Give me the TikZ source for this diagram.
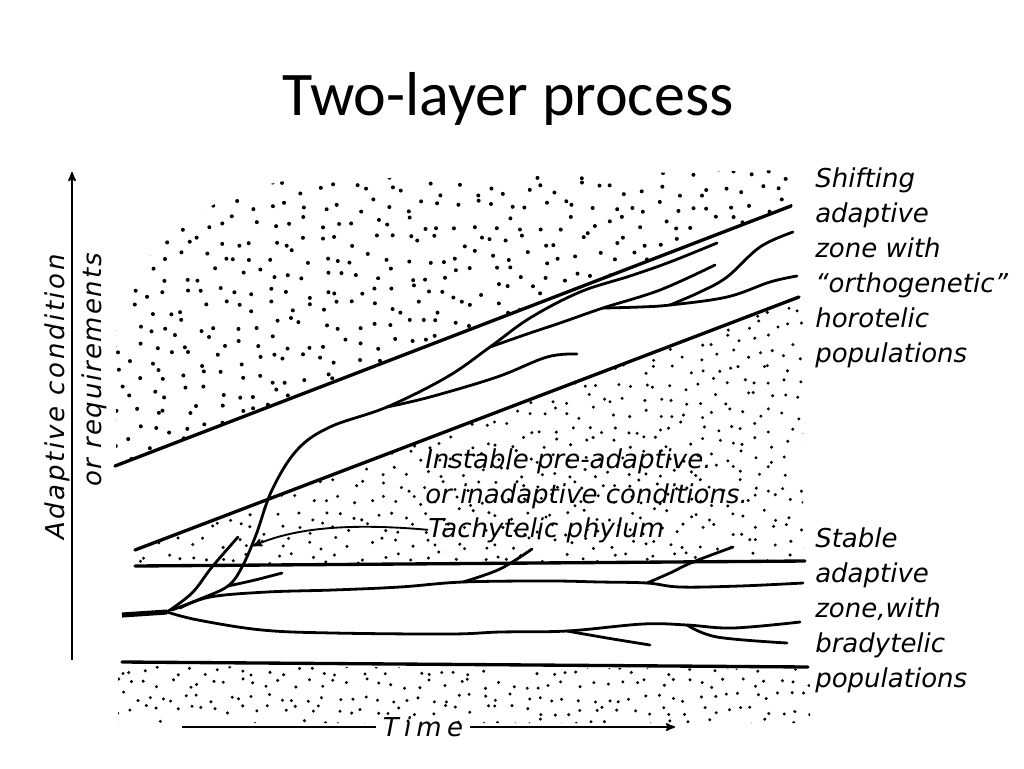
\documentclass[tikz,border=0pt]{standalone}
\usepackage{fontspec}
\setmainfont{Carlito}
\newfontfamily\handfont{DejaVu Sans}
\usepackage{tikz}
\usetikzlibrary{arrows}
\tikzset{
    hand/.style = {font=\handfont\itshape\fontsize{19.5}{26.25}\selectfont, inner sep=0pt},
    hand_block/.style = {hand, align=left, anchor=north west},
    zone_line/.style = {line width=2.5pt, line cap=round},
    branch/.style = {line width=2.1pt, line cap=round},
    stem/.style = {line width=3.8pt},
    axis/.style = {line width=1.4pt}
}

\begin{document}
\begin{tikzpicture}
            [x=0.75pt, y=-0.75pt, >=stealth', line join=round]
            \useasboundingbox (0,0) rectangle (1024,768);

            \node (title) [anchor=base, font=\fontsize{46.5}{50}\selectfont] at (508,115) {Two-layer process};

            % stippled zones
            \pgfmathsetseed{12}
            \begin{scope}
                \clip (116,466) -- (116,330) .. controls (130,250) and (200,195) .. (290,180) -- (792,170) -- (792,206) -- cycle;
                \foreach \i in {0,...,40}
                    \foreach \j in {0,...,17}
                        \fill ({118+17*\i+7*rand}, {172+17*\j+7*rand}) circle (1.5pt);
            \end{scope}
            \begin{scope}
                \clip (135,551) -- (800,297) -- (803,297) -- (803,561) -- (135,566) -- cycle;
                \foreach \i in {0,...,46}
                    \foreach \j in {0,...,18}
                        \fill ({135+14.5*\i+6*rand}, {297+14.5*\j+6*rand}) circle (1.25pt);
            \end{scope}
            \begin{scope}
                \clip (118,666) -- (810,669) -- (810,723) -- (118,723) -- cycle;
                \foreach \i in {0,...,51}
                    \foreach \j in {0,...,4}
                        \fill ({120+13.5*\i+5*rand}, {670+13.5*\j+5*rand}) circle (1.25pt);
            \end{scope}

            % zone borders
            \coordinate (shift_top_l) at (115,466);
            \coordinate (shift_top_r) at (791,206);
            \coordinate (shift_bot_l) at (135,550);
            \coordinate (shift_bot_r) at (799,297);
            \coordinate (stable_top_l) at (135,566);
            \coordinate (stable_top_r) at (805,561);
            \coordinate (stable_bot_l) at (122,662);
            \coordinate (stable_bot_r) at (808,667);
            \draw[zone_line] (shift_top_l) -- (shift_top_r);
            \draw[zone_line] (shift_bot_l) -- (shift_bot_r);
            \draw[zone_line] (stable_top_l) -- (stable_top_r);
            \draw[zone_line] (stable_bot_l) -- (stable_bot_r);

            % phylum
            \coordinate (root) at (122,615);
            \coordinate (fork) at (167,612);
            \coordinate (low_a) at (567,631);
            \coordinate (low_b) at (687,625);
            \coordinate (mid_0) at (180,608);
            \coordinate (mid_a) at (463,582);
            \coordinate (mid_b) at (647,583);
            \coordinate (tach_0) at (172,610);
            \coordinate (tach_a) at (228,586);
            \coordinate (tach_b) at (387,407);
            \coordinate (tach_c) at (490,347);
            \coordinate (tach_d) at (603,308);
            \coordinate (tach_e) at (670,305);
            \draw[stem] (root) -- (fork);
            \draw[branch] plot[smooth, tension=0.6] coordinates {(fork) (198,620) (262,630) (333,633) (450,634) (500,632) (low_a) (643,624) (low_b) (733,628) (800,622)};
            \draw[branch] plot[smooth, tension=0.6] coordinates {(low_a) (607,638) (650,645)};
            \draw[branch] plot[smooth, tension=0.6] coordinates {(low_b) (717,637) (787,643)};
            \draw[branch] plot[smooth, tension=0.6] coordinates {(mid_0) (210,597) (267,592) (333,590) (400,587) (mid_a) (550,581) (600,582) (mid_b) (680,587) (740,586) (803,583)};
            \draw[branch] plot[smooth, tension=0.6] coordinates {(mid_a) (500,569) (532,549)};
            \draw[branch] plot[smooth, tension=0.6] coordinates {(mid_b) (670,573) (693,562) (733,547)};
            \draw[branch] plot[smooth, tension=0.6] coordinates {(fork) (192,593) (212,567) (238,537)};
            \draw[branch] plot[smooth, tension=0.6] coordinates {(tach_0) (200,599) (tach_a) (242,567) (256,535) (272,490) (297,450) (330,427) (tach_b) (447,377) (tach_c) (530,318) (580,292) (630,276) (670,262) (717,243)};
            \draw[branch] plot[smooth, tension=0.6] coordinates {(tach_a) (255,580) (282,573)};
            \draw[branch] plot[smooth, tension=0.6] coordinates {(tach_b) (430,397) (497,377) (547,357) (577,354)};
            \draw[branch] plot[smooth, tension=0.6] coordinates {(tach_c) (530,333) (560,323) (tach_d) (660,290) (715,265)};
            \draw[branch] plot[smooth, tension=0.6] coordinates {(tach_d) (640,307) (tach_e) (727,297) (770,282) (797,276)};
            \draw[branch] plot[smooth, tension=0.6] coordinates {(tach_e) (700,292) (727,277) (760,247) (793,232)};

            % labels
            \node (shifting) [hand_block] at (815,167) {Shifting\\adaptive\\zone with\\“orthogenetic”\\horotelic\\populations};
            \node (stable) [hand_block] at (815,527) {Stable\\adaptive\\zone,with\\bradytelic\\populations};
            \node (instable) [hand_block] at (425,448) {Instable pre-adaptive.\\or inadaptive conditions.};
            \node (tachy) [hand, anchor=base west] at (428,537) {Tachytelic phylum};
            \coordinate (tachy_tip) at (253,546);
            \draw[->, axis] (tachy.west) .. controls (340,522) and (290,530) .. (tachy_tip);

            % axes
            \coordinate (y_bot) at (72,660);
            \coordinate (y_top) at (72,172);
            \draw[->, axis] (y_bot) -- (y_top);
            \node (ylab_a) [hand, rotate=90] at (57,397) {\addfontfeatures{LetterSpace=10}Adaptive condition};
            \node (ylab_b) [hand, rotate=90] at (94,370) {\addfontfeatures{LetterSpace=7}or requirements};
            \node (time) [hand, inner sep=5pt] at (423,727) {\addfontfeatures{LetterSpace=20}Time};
            \coordinate (time_l) at (182,727);
            \coordinate (time_r) at (675,727);
            \draw[axis] (time_l) -- (time.west);
            \draw[->, axis] (time.east) -- (time_r);
        \end{tikzpicture}
\end{document}
